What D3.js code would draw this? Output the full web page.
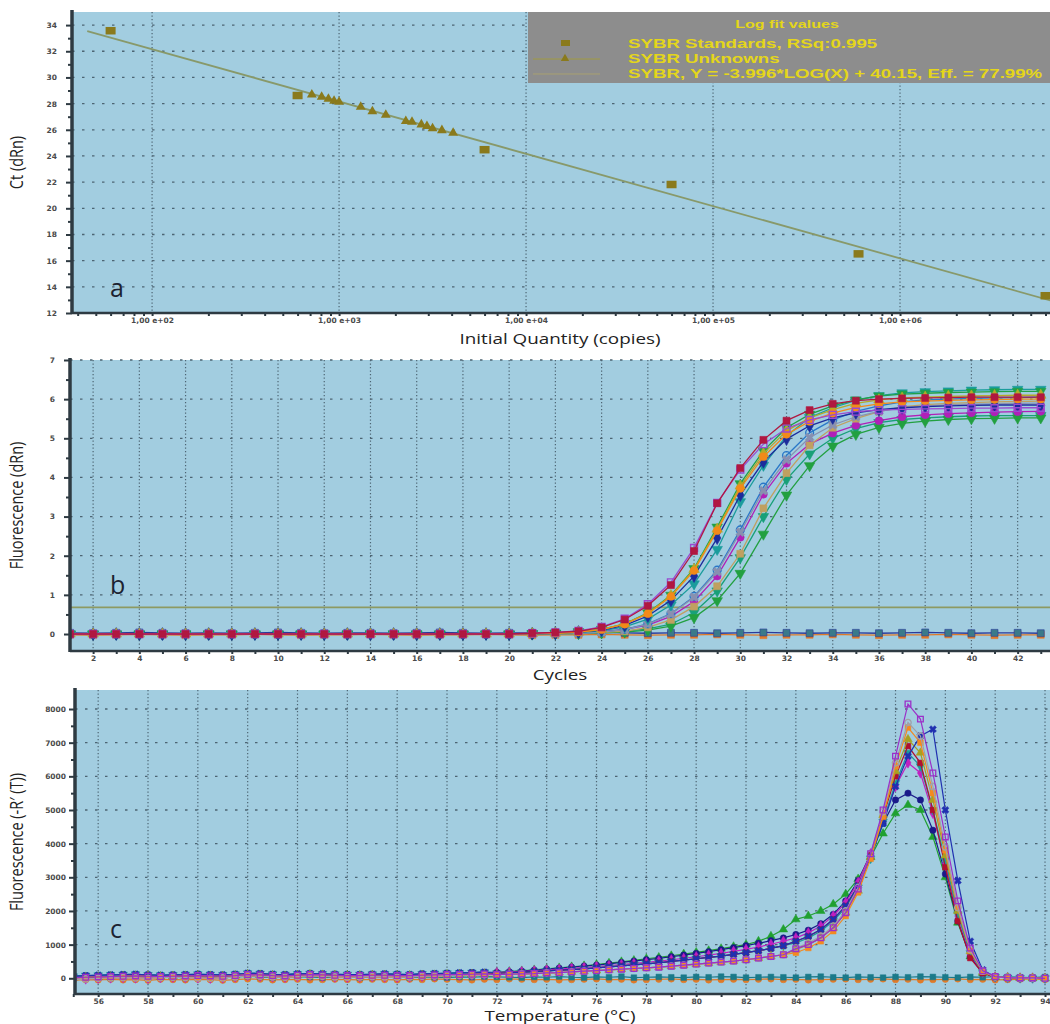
<!DOCTYPE html>
<html><head><meta charset="utf-8">
<script src="https://cdn.jsdelivr.net/npm/d3@7"></script>
<style>body{margin:0;background:#fff}svg{display:block}</style>
</head><body>
<script>
// ================= DATA =================
// Panel a: standard curve
const stdQuantity = [60, 600, 6000, 60000, 600000, 6000000];
const stdCt = [33.55, 28.6, 24.46, 21.8, 16.5, 13.3];
const unkQuantity = [715, 807, 877, 940, 1000, 1306, 1507, 1778, 2275, 2455, 2754, 2951, 3162, 3548, 4074];
const unkCt = [28.69, 28.51, 28.36, 28.2, 28.13, 27.75, 27.41, 27.14, 26.65, 26.6, 26.4, 26.27, 26.1, 25.96, 25.76];
const fitSlope = -3.996, fitIntercept = 40.15;
const fitRange = [45, 6.4e6];
const aYTicks = [12,14,16,18,20,22,24,26,28,30,32,34];
const aXTicks = [1e2,1e3,1e4,1e5,1e6];
const aXLabels = ["1,00 e+02","1,00 e+03","1,00 e+04","1,00 e+05","1,00 e+06"];
const legendTitle = "Log fit values";
const legendLines = ["SYBR Standards, RSq:0.995","SYBR Unknowns","SYBR, Y = -3.996*LOG(X) + 40.15, Eff. = 77.99%"];

// Panel b: amplification curves (cycles 1..43)
const cycles = d3.range(1, 44);
const bXTicks = [2,4,6,8,10,12,14,16,18,20,22,24,26,28,30,32,34,36,38,40,42];
const bYTicks = [0,1,2,3,4,5,6,7];
const threshold = 0.68;
const ampCrimson = [0,0,0,0,0,0,0,0,0,0,0,0,0,0,0,0,0,0,0,0, 0.02,0.04,0.07,0.17,0.37,0.72,1.25,2.12,3.34,4.24,4.96,5.45,5.72,5.88,5.96,6.0,6.02,6.03,6.04,6.05,6.05,6.05,6.05];
const ampViolet = [0,0,0,0,0,0,0,0,0,0,0,0,0,0,0,0,0,0,0,0, 0.02,0.04,0.08,0.18,0.39,0.76,1.32,2.2,3.35,4.2,4.85,5.25,5.47,5.6,5.68,5.72,5.74,5.75,5.76,5.77,5.77,5.78,5.78];
const ampOrange = [0,0,0,0,0,0,0,0,0,0,0,0,0,0,0,0,0,0,0,0, 0.01,0.02,0.05,0.11,0.25,0.52,0.96,1.62,2.64,3.72,4.53,5.10,5.43,5.64,5.79,5.88,5.93,5.95,5.97,5.98,5.99,6.0,6.0];
const ampOlive = [0,0,0,0,0,0,0,0,0,0,0,0,0,0,0,0,0,0,0,0, 0.01,0.02,0.05,0.12,0.26,0.53,0.98,1.65,2.68,3.78,4.61,5.19,5.52,5.73,5.89,5.98,6.03,6.05,6.07,6.08,6.09,6.1,6.1];
const ampNavy = [0,0,0,0,0,0,0,0,0,0,0,0,0,0,0,0,0,0,0,0, 0.01,0.02,0.05,0.1,0.22,0.46,0.86,1.48,2.45,3.55,4.4,4.98,5.32,5.52,5.65,5.73,5.78,5.81,5.83,5.84,5.85,5.85,5.85];
const ampTeal = [0,0,0,0,0,0,0,0,0,0,0,0,0,0,0,0,0,0,0,0, 0.01,0.02,0.04,0.08,0.18,0.38,0.74,1.28,2.16,3.38,4.31,5.06,5.53,5.78,5.97,6.09,6.16,6.19,6.21,6.23,6.24,6.25,6.25];
const ampGreen = [0,0,0,0,0,0,0,0,0,0,0,0,0,0,0,0,0,0,0,0, 0.01,0.02,0.06,0.12,0.26,0.54,0.99,1.67,2.73,3.84,4.68,5.27,5.61,5.83,5.98,6.08,6.13,6.15,6.17,6.18,6.19,6.2,6.2];
const ampGray = [0,0,0,0,0,0,0,0,0,0,0,0,0,0,0,0,0,0,0,0, 0.01,0.01,0.02,0.05,0.11,0.25,0.51,0.94,1.59,2.60,3.66,4.45,5.02,5.34,5.55,5.69,5.78,5.83,5.85,5.87,5.88,5.89,5.9];
const ampKhaki = [0,0,0,0,0,0,0,0,0,0,0,0,0,0,0,0,0,0,0,0, 0.01,0.01,0.02,0.04,0.07,0.17,0.36,0.70,1.22,2.05,3.21,4.11,4.82,5.27,5.50,5.68,5.80,5.86,5.89,5.91,5.93,5.94,5.95];
const ampBlue = [0,0,0,0,0,0,0,0,0,0,0,0,0,0,0,0,0,0,0,0, 0.01,0.01,0.02,0.05,0.12,0.26,0.52,0.96,1.63,2.66,3.75,4.56,5.14,5.47,5.69,5.83,5.93,5.98,6.0,6.02,6.03,6.04,6.05];
const ampMagenta = [0,0,0,0,0,0,0,0,0,0,0,0,0,0,0,0,0,0,0,0, 0.01,0.01,0.03,0.06,0.12,0.23,0.45,0.83,1.48,2.47,3.57,4.36,4.85,5.13,5.33,5.45,5.55,5.6,5.63,5.65,5.67,5.68,5.69];
const ampGreenLate = [0,0,0,0,0,0,0,0,0,0,0,0,0,0,0,0,0,0,0,0, 0,0.01,0.01,0.03,0.05,0.1,0.2,0.42,0.85,1.55,2.55,3.55,4.3,4.8,5.1,5.28,5.38,5.44,5.48,5.5,5.51,5.52,5.52];
const ampGreenLate2 = [0,0,0,0,0,0,0,0,0,0,0,0,0,0,0,0,0,0,0,0, 0,0.01,0.02,0.04,0.07,0.13,0.25,0.55,1.1,1.95,3.0,3.95,4.6,5.0,5.25,5.4,5.48,5.52,5.55,5.57,5.58,5.58,5.58];
const ntcA = [0.03,0.02,0.03,0.04,0.03,0.02,0.03,0.02,0.03,0.04,0.03,0.02,0.03,0.03,0.02,0.03,0.04,0.03,0.02,0.03,0.03,0.02,0.03,0.04,0.03,0.02,0.03,0.03,0.02,0.03,0.04,0.03,0.02,0.03,0.03,0.02,0.03,0.04,0.03,0.02,0.03,0.03,0.02];
const ntcB = [-0.02,-0.03,-0.02,-0.01,-0.02,-0.03,-0.02,-0.02,-0.01,-0.02,-0.03,-0.02,-0.02,-0.01,-0.02,-0.03,-0.02,-0.02,-0.01,-0.02,-0.03,-0.02,-0.02,-0.01,-0.02,-0.03,-0.02,-0.02,-0.01,-0.02,-0.03,-0.02,-0.02,-0.01,-0.02,-0.03,-0.02,-0.02,-0.01,-0.02,-0.03,-0.02,-0.02];

// Panel c: melt curves (55..94 °C, step 0.5)
const meltTemps = d3.range(55, 94.001, 0.5);
const cXTicks = [56,58,60,62,64,66,68,70,72,74,76,78,80,82,84,86,88,90,92,94];
const cYTicks = [0,1000,2000,3000,4000,5000,6000,7000,8000];
const meltViolet = [20,30,40,50,60,70,60,50,60,70,80,70,60,80,110,100,80,70,90,110,100,90,80,80,90,90,80,80,90,100,110,110,120,130, 110,120,130,140,160,170,190,210,230,250,270,290,310,330,360,390,420,450,480,510,550,600,650,700, 880,1000,1200,1500,1950,2650,3700,5000,6600,8150,7700,6100,4200,2300,900,220,50,20,10,10,0];
const meltGray = [-40,-20,0,10,20,10,0,20,30,20,10,0,10,40,80,60,40,30,50,80,60,40,30,40,50,40,30,40,60,70,80,90,100,110, 110,120,130,140,160,170,190,210,230,250,270,290,310,330,360,390,420,450,480,510,550,600,650,700, 900,1050,1250,1550,2000,2700,3700,4950,6400,7600,7200,5700,3900,2100,850,210,40,20,10,0,0];
const meltOrange = [-40,-20,0,10,20,10,0,20,30,20,10,0,10,40,80,60,40,30,50,80,60,40,30,40,50,40,30,40,60,70,80,90,100,110, 110,120,130,140,160,170,190,210,230,250,270,290,310,330,360,390,420,450,480,510,550,600,650,700, 760,900,1100,1400,1850,2550,3550,4800,6300,7450,7000,5500,3800,2100,820,200,40,20,10,10,0];
const meltBlue = [60,80,90,100,110,120,100,90,100,110,120,110,100,120,150,140,120,110,130,140,130,120,110,110,120,130,120,110,130,140,150,160,170,180, 150,160,180,200,220,240,260,280,310,340,370,400,430,460,500,540,580,620,660,710,760,820,890,970, 1100,1250,1450,1750,2150,2750,3600,4600,5700,6600,7200,7400,5000,2900,1100,250,40,20,10,0,0];
const meltCrimson = [20,30,40,50,60,70,60,50,60,70,80,70,60,80,110,100,80,70,90,110,100,90,80,80,90,90,80,80,90,100,110,110,120,130, 150,160,180,200,220,240,260,280,310,340,370,400,430,460,500,540,580,620,660,710,760,820,890,970, 1100,1240,1450,1750,2150,2750,3650,4800,6000,6900,6400,5000,3300,1700,600,150,30,20,10,10,0];
const meltMagenta = [-40,-20,0,10,20,10,0,20,30,20,10,0,10,40,80,60,40,30,50,80,60,40,30,40,50,40,30,40,60,70,80,90,100,110, 170,180,200,220,250,270,300,320,350,380,410,440,470,510,550,590,640,690,740,800,860,930,1010,1100, 1200,1350,1550,1850,2250,2850,3700,4700,5700,6400,6100,4900,3400,1850,700,180,40,20,10,10,0];
const meltTeal = [60,80,90,100,110,120,100,90,100,110,120,110,100,120,150,140,120,110,130,140,130,120,110,110,120,130,120,110,130,140,150,160,170,180, 150,160,180,200,220,240,260,280,310,340,370,400,430,460,500,540,580,620,660,710,760,820,890,970, 1050,1200,1400,1700,2100,2700,3550,4650,5800,6700,6300,5000,3500,1900,750,180,40,20,10,0,0];
const meltNavy = [60,80,90,100,110,120,100,90,100,110,120,110,100,120,150,140,120,110,130,140,130,120,110,110,120,130,120,110,130,140,150,160,170,180, 170,190,210,240,270,300,330,360,390,430,470,510,550,590,640,690,740,790,850,910,970,1040,1120,1200, 1300,1430,1620,1900,2300,2900,3700,4600,5300,5500,5300,4400,3100,1700,650,160,40,20,10,10,0];
const meltGreen = [20,30,40,50,60,70,60,50,60,70,80,70,60,80,110,100,80,70,90,110,100,90,80,80,90,90,80,80,90,100,110,110,120,130, 180,200,220,250,280,310,340,370,410,450,490,530,580,620,670,720,770,820,880,940,1000,1100,1250,1450, 1750,1850,2000,2200,2500,2950,3600,4300,4900,5150,5000,4200,3000,1650,650,160,40,20,10,0,0];
const meltOlive = [20,30,40,50,60,70,60,50,60,70,80,70,60,80,110,100,80,70,90,110,100,90,80,80,90,90,80,80,90,100,110,110,120,130, 110,120,130,140,160,170,190,210,230,250,270,290,310,330,360,390,420,450,480,510,550,600,650,700, 850,1000,1200,1500,1950,2600,3600,4850,6150,7100,6700,5300,3650,2000,800,190,40,20,10,10,0];
const meltFlatA = [30,20,40,10,30,50,20,40,30,10,40,20,50,30,60,40,20,30,50,40,20,30,40,20,30,40,30,20,40,30,20,40,30,50,40,30,20,40,30,50,30,20,40,30,50,20,30,40,30,20,40,30,50,40,20,30,40,30,20,40,50,30,20,40,30,20,40,30,50,40,30,20,40,30,50,40,30,20,40];
const meltFlatB = [-60,-40,-50,-30,-50,-40,-60,-30,-40,-50,-30,-40,-60,-40,-20,-30,-50,-40,-30,-50,-40,-30,-40,-50,-30,-40,-50,-30,-40,-20,-30,-40,-50,-30,-40,-20,-30,-40,-30,-50,-40,-30,-20,-40,-30,-50,-40,-30,-20,-40,-30,-50,-40,-30,-40,-30,-20,-40,-30,-50,-40,-30,-20,-40,-30,-20,-40,-30,-50,-40,-30,-20,-40,-30,-50,-40,-30,-20,-40];

// ================= DRAWING =================
const W = 1050, H = 1024;
const BG = '#a2cde0', GRID = '#4d6573', AXIS = '#2e3a42', TICKTXT = '#4a4a4a';
const SX = 1.3; // horizontal stretch of the original raster
const svg = d3.select('body').append('svg').attr('width', W).attr('height', H)
  .style('font-family', '"Liberation Sans", Arial, sans-serif');

function symbolPath(type, size) {
  const map = {square: d3.symbolSquare, circle: d3.symbolCircle, tri: d3.symbolTriangle, triDown: d3.symbolTriangle,
    diamond: d3.symbolDiamond, cross: d3.symbolCross, star: d3.symbolStar};
  return d3.symbol().type(map[type]).size(size)();
}

function stretchedText(parent, x, y, txt, anchor, rotate, sx) {
  return parent.append('text')
    .attr('transform', `translate(${x},${y}) scale(${sx || SX},1)${rotate ? ' rotate(-90)' : ''}`)
    .attr('text-anchor', anchor).text(txt);
}

function panel(o) {
  const [x0, x1] = o.x.range(), [yb, yt] = o.y.range();
  const g = svg.append('g');
  g.append('rect').attr('x', x0).attr('y', yt).attr('width', x1 - x0).attr('height', yb - yt).attr('fill', BG);
  g.selectAll(null).data(o.yGrid).join('line')
    .attr('x1', x0).attr('x2', x1).attr('y1', d => o.y(d)).attr('y2', d => o.y(d))
    .attr('stroke', GRID).attr('stroke-width', 1.3).attr('stroke-dasharray', '2.5,7.5');
  g.selectAll(null).data(o.xGrid).join('line')
    .attr('y1', yt).attr('y2', yb).attr('x1', d => o.x(d)).attr('x2', d => o.x(d))
    .attr('stroke', GRID).attr('stroke-width', 1.2).attr('stroke-dasharray', '1.3,2.2');
  svg.append('clipPath').attr('id', 'clip-' + o.name).append('rect')
    .attr('x', x0).attr('y', yt).attr('width', x1 - x0).attr('height', yb - yt);
  const data = svg.append('g').attr('clip-path', `url(#clip-${o.name})`);
  const yAx = svg.append('g').attr('transform', `translate(${x0},0)`)
    .call(d3.axisLeft(o.y).tickValues(o.yMajor).tickSize(6).tickPadding(o.yPad).tickFormat(o.yFmt || (d => d)));
  const yMin = svg.append('g').attr('transform', `translate(${x0},0)`)
    .call(d3.axisLeft(o.y).tickValues(o.yMinor).tickSize(4).tickFormat(''));
  const xAx = svg.append('g').attr('transform', `translate(0,${yb})`)
    .call(d3.axisBottom(o.x).tickValues(o.xMajor).tickSize(3).tickPadding(1.5).tickFormat(o.xFmt || (d => d)));
  const xMin = svg.append('g').attr('transform', `translate(0,${yb})`)
    .call(d3.axisBottom(o.x).tickValues(o.xMinor).tickSize(3).tickFormat(''));
  [yAx, yMin, xAx, xMin].forEach(a => {
    a.select('.domain').remove();
    a.selectAll('line').attr('stroke', AXIS).attr('stroke-width', 2);
    a.selectAll('text').attr('fill', TICKTXT)
      .style('font-family', '"DejaVu Sans", sans-serif').style('font-size', '7.5px').style('font-weight', 'bold');
  });
  svg.append('line').attr('x1', x0).attr('x2', x1).attr('y1', yb).attr('y2', yb).attr('stroke', AXIS).attr('stroke-width', 2.5);
  svg.append('line').attr('x1', x0).attr('x2', x0).attr('y1', yt - 2).attr('y2', yb + 1).attr('stroke', AXIS).attr('stroke-width', 3.5);
  const tt = svg.append('g').style('font-family', '"Open Sans", sans-serif').style('font-size', '14.5px').attr('fill', '#222');
  stretchedText(tt, o.yTitleX, (yt + yb) / 2, o.yTitle, 'middle', true);
  stretchedText(tt, 560, o.xTitleY, o.xTitle, 'middle', false);
  svg.append('text').attr('x', 110).attr('y', o.letterY).style('font-family', '"Open Sans", sans-serif')
    .style('font-size', '25px').attr('fill', '#1c2230').text(o.letter);
  return data;
}

// ---------- Panel a ----------
const ax = d3.scaleLog().domain([37.3, 6.34e6]).range([72, 1050]);
const ay = d3.scaleLinear().domain([12, 35]).range([313, 12]);
const aMinorX = [];
[10, 100, 1000, 1e4, 1e5, 1e6].forEach(dec => [2,3,4,5,6,7,8,9].forEach(m => { const v = dec * m; if (v > 37.3 && v < 6.34e6) aMinorX.push(v); }));
const aData = panel({name: 'a', x: ax, y: ay, yGrid: aYTicks.slice(1), xGrid: aXTicks,
  yMajor: aYTicks, yMinor: d3.range(13, 35, 2), xMajor: aXTicks, xMinor: aMinorX, yPad: 9,
  xFmt: d => aXLabels[aXTicks.indexOf(d)],
  yTitle: 'Ct (dRn)', yTitleX: 23, xTitle: 'Initial Quantity (copies)', xTitleY: 344, letter: 'a', letterY: 297});
const MARK = '#8a7a1c';
aData.append('line')
  .attr('x1', ax(fitRange[0])).attr('y1', ay(fitSlope * Math.log10(fitRange[0]) + fitIntercept))
  .attr('x2', ax(fitRange[1])).attr('y2', ay(fitSlope * Math.log10(fitRange[1]) + fitIntercept))
  .attr('stroke', '#88996a').attr('stroke-width', 1.8);
aData.selectAll(null).data(unkQuantity).join('path')
  .attr('transform', (d, i) => `translate(${ax(d)},${ay(unkCt[i])})`)
  .attr('d', symbolPath('tri', 42)).attr('fill', MARK);
aData.selectAll(null).data(stdQuantity).join('rect')
  .attr('x', d => ax(d) - 5).attr('y', (d, i) => ay(stdCt[i]) - 4).attr('width', 10).attr('height', 7.5).attr('fill', MARK);
// legend
const lg = svg.append('g').attr('fill', '#e4d61a').style('font-weight', 'bold');
lg.append('rect').attr('x', 528).attr('y', 12).attr('width', 522).attr('height', 71).attr('fill', '#8d8d8d');
stretchedText(lg, 787, 28, legendTitle, 'middle', false, 1.4).style('font-size', '11.5px');
legendLines.forEach((t, i) => stretchedText(lg, 628, 48 + i * 15, t, 'start', false, 1.385).style('font-size', '13.5px'));
lg.append('rect').attr('x', 561).attr('y', 40).attr('width', 9).attr('height', 6).attr('fill', MARK);
lg.append('line').attr('x1', 533).attr('x2', 600).attr('y1', 59).attr('y2', 59).attr('stroke', '#a09a40').attr('stroke-width', 1);
lg.append('path').attr('transform', 'translate(565,58.5)').attr('d', symbolPath('tri', 30)).attr('fill', MARK);
lg.append('line').attr('x1', 533).attr('x2', 600).attr('y1', 74).attr('y2', 74).attr('stroke', '#a8a070').attr('stroke-width', 1);

// ---------- Panel b ----------
const bx = d3.scaleLinear().domain([1, 43.4]).range([70, 1050]);
const by = d3.scaleLinear().domain([-0.434, 7]).range([651, 360]);
const bData = panel({name: 'b', x: bx, y: by, yGrid: [1,2,3,4,5,6,7], xGrid: bXTicks,
  yMajor: bYTicks, yMinor: d3.range(0.5, 7, 1), xMajor: bXTicks, xMinor: d3.range(3, 44, 2), yPad: 9,
  yTitle: 'Fluorescence (dRn)', yTitleX: 23, xTitle: 'Cycles', xTitleY: 680, letter: 'b', letterY: 594});
bData.append('line').attr('x1', 70).attr('x2', 1050).attr('y1', by(threshold)).attr('y2', by(threshold))
  .attr('stroke', '#8d9a62').attr('stroke-width', 1.8);
const ampSeries = [
  {v: ntcB, c: '#e07a28', s: 'square', f: true},
  {v: ntcA, c: '#2a3a9a', s: 'square', f: true, fill: '#3a7a8a'},
  {v: ampGreenLate2, c: '#18a078', s: 'triDown', f: true},
  {v: ampGreenLate, c: '#22a040', s: 'triDown', f: true},
  {v: ampMagenta, c: '#b020b8', s: 'circle', f: true},
  {v: ampKhaki, c: '#c0a060', s: 'square', f: true},
  {v: ampBlue, c: '#2a78c8', s: 'circle', f: false},
  {v: ampGray, c: '#8890b0', s: 'cross', f: true},
  {v: ampTeal, c: '#1a9c9c', s: 'triDown', f: true},
  {v: ampGreen, c: '#20a048', s: 'triDown', f: true},
  {v: ampNavy, c: '#1c2c9c', s: 'diamond', f: true},
  {v: ampOlive, c: '#b4aa28', s: 'tri', f: true},
  {v: ampOrange, c: '#f28a1a', s: 'circle', f: true},
  {v: ampViolet, c: '#9a4ad0', s: 'square', f: false},
  {v: ampCrimson, c: '#b01840', s: 'square', f: true}
];
const bLine = d3.line().x((d, i) => bx(cycles[i])).y(d => by(d));
ampSeries.forEach(s => {
  bData.append('path').datum(s.v).attr('d', bLine).attr('fill', 'none').attr('stroke', s.c).attr('stroke-width', 1.3);
  bData.selectAll(null).data(s.v).join('path')
    .attr('transform', (d, i) => `translate(${bx(cycles[i])},${by(d)})${s.s === 'triDown' ? ' rotate(180)' : ''}${s.s === 'cross' ? ' rotate(45)' : ''}`)
    .attr('d', symbolPath(s.s, 48))
    .attr('fill', s.f ? (s.fill || s.c) : 'none').attr('stroke', s.c).attr('stroke-width', s.f ? 0.6 : 1.4);
});

// ---------- Panel c ----------
const cx = d3.scaleLinear().domain([55.07, 94.2]).range([75, 1050]);
const cy = d3.scaleLinear().domain([-467, 8565]).range([994, 690]);
const cData = panel({name: 'c', x: cx, y: cy, yGrid: [1000,2000,3000,4000,5000,6000,7000,8000], xGrid: cXTicks,
  yMajor: cYTicks, yMinor: d3.range(500, 8500, 1000), xMajor: cXTicks, xMinor: d3.range(55, 95, 2), yPad: 3,
  yTitle: "Fluorescence (-R\u2032 (T))", yTitleX: 23, xTitle: 'Temperature (\u00B0C)', xTitleY: 1021, letter: 'c', letterY: 938});
const meltSeries = [
  {v: meltFlatB, c: '#e07a28', s: 'circle', f: true},
  {v: meltFlatA, c: '#1a7a8a', s: 'square', f: true},
  {v: meltGreen, c: '#20a030', s: 'tri', f: true},
  {v: meltNavy, c: '#1a1a8a', s: 'circle', f: true},
  {v: meltMagenta, c: '#c020c0', s: 'diamond', f: true},
  {v: meltTeal, c: '#1a9a9a', s: 'triDown', f: true},
  {v: meltCrimson, c: '#b01030', s: 'square', f: true},
  {v: meltOlive, c: '#a8a020', s: 'tri', f: true},
  {v: meltBlue, c: '#2030b0', s: 'cross', f: true},
  {v: meltOrange, c: '#f5891f', s: 'square', f: true},
  {v: meltGray, c: '#a0a0a8', s: 'circle', f: false},
  {v: meltViolet, c: '#9b30c8', s: 'square', f: false}
];
const cLine = d3.line().x((d, i) => cx(meltTemps[i])).y(d => cy(d));
meltSeries.forEach(s => {
  cData.append('path').datum(s.v).attr('d', cLine).attr('fill', 'none').attr('stroke', s.c).attr('stroke-width', 1.2);
  cData.selectAll(null).data(s.v).join('path')
    .attr('transform', (d, i) => `translate(${cx(meltTemps[i])},${cy(d)})${s.s === 'triDown' ? ' rotate(180)' : ''}${s.s === 'cross' ? ' rotate(45)' : ''}`)
    .attr('d', symbolPath(s.s, 32))
    .attr('fill', s.f ? s.c : 'none').attr('stroke', s.c).attr('stroke-width', s.f ? 0.5 : 1.3);
});
</script>
</body></html>
